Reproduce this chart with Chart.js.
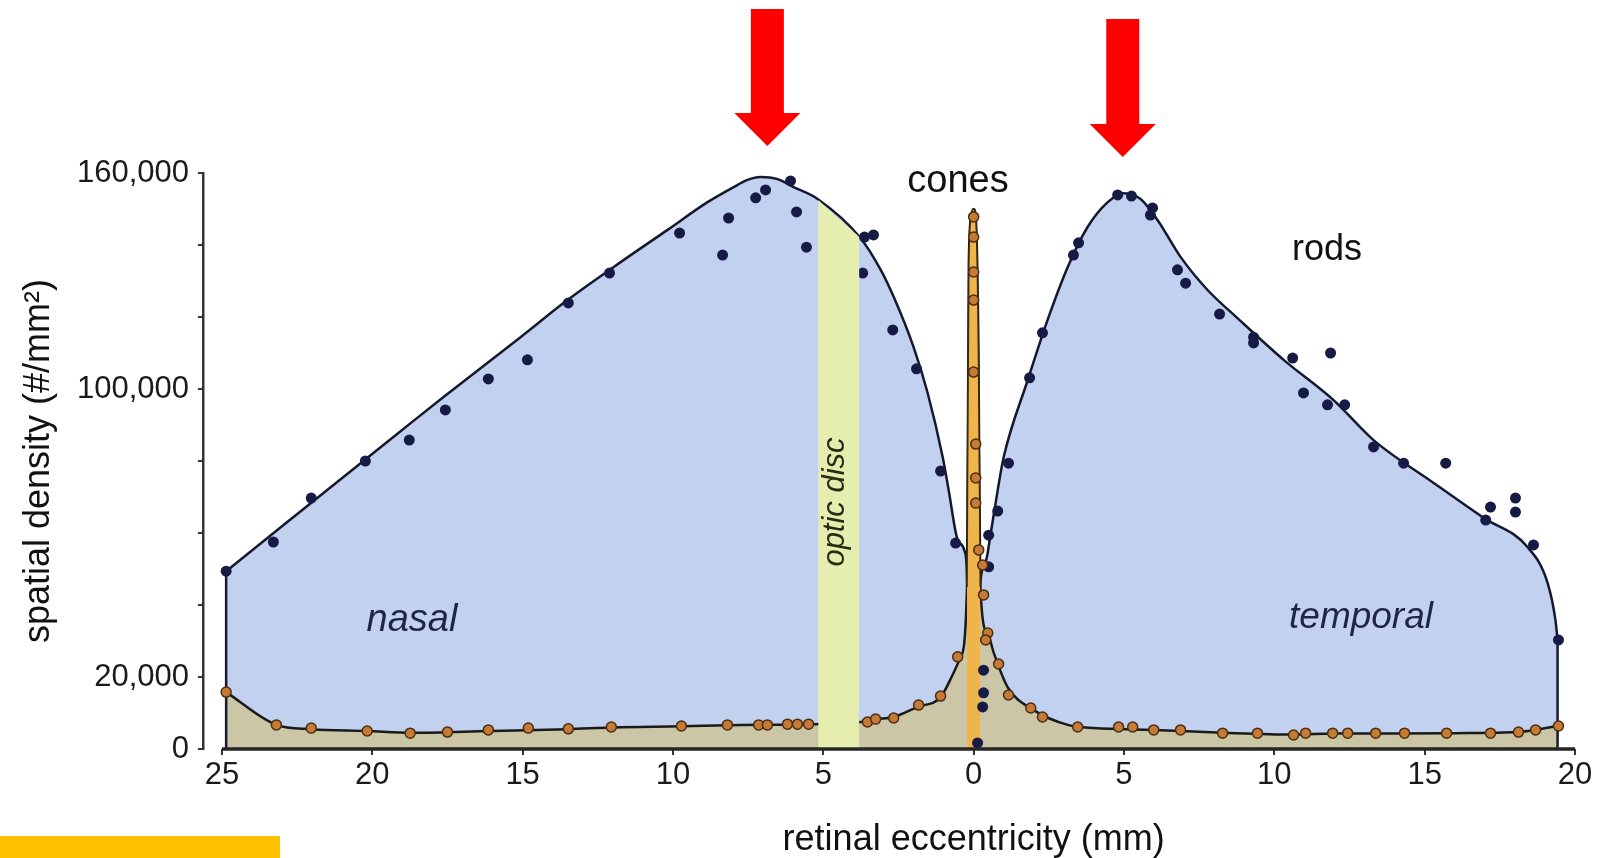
<!DOCTYPE html>
<html>
<head>
<meta charset="utf-8">
<title>Rod and cone density</title>
<script src="https://cdn.jsdelivr.net/npm/chart.js@4.4.1/dist/chart.umd.min.js"></script>
<style>
  html, body { margin: 0; padding: 0; background: #fff; }
  #wrap { width: 1598px; height: 858px; }
</style>
</head>
<body>
<div id="wrap"><canvas id="densityChart" width="1598" height="858"></canvas></div>
<script>
// Axis ticks (eccentricity in mm, nasal side negative)
const xTickValues = [-25, -20, -15, -10, -5, 0, 5, 10, 15, 20];
const xTickLabels = ['25', '20', '15', '10', '5', '0', '5', '10', '15', '20'];
const yTickValues = [0, 20000, 40000, 60000, 80000, 100000, 120000, 140000, 160000];
const yTickLabels = ['0', '20,000', '', '', '', '100,000', '', '', '160,000'];

// Fitted rod density curve [mm, cells/mm2]
const rodCurve = [
  [-24.86, 49400], [-19.07, 88200], [-17.63, 97800], [-15.07, 114400], [-13.51, 124700],
  [-11.97, 133900], [-10.18, 144200], [-8.85, 151900], [-7.98, 156100], [-7.52, 158100],
  [-7.09, 158900], [-6.52, 158300], [-5.99, 156100], [-5.19, 152800], [-3.76, 141900],
  [-3.09, 133100], [-2.66, 125600], [-2.0, 111700], [-1.53, 98900], [-1.03, 81100],
  [-0.83, 71900], [-0.53, 58100], [-0.3, 55000], [-0.22, 48000], [-0.15, 15000], [0, 0],
  [0.15, 20000], [0.22, 46000], [0.4, 52000], [0.57, 60000], [0.8, 71900], [1.0, 81100],
  [1.8, 102500], [2.46, 119200], [3.13, 133900], [3.79, 145000], [4.46, 151900],
  [4.99, 154400], [5.55, 152800], [6.12, 146900], [6.88, 136700], [7.78, 127500],
  [8.8, 119500], [10.31, 108100], [11.97, 96900], [13.3, 85800], [15.3, 73900],
  [16.96, 64200], [18.42, 56100], [19.09, 46100], [19.35, 35800], [19.42, 30300]
];

// Fitted cone density curve
const coneCurve = [
  [-24.86, 15800], [-23.19, 6700], [-22.03, 5500], [-20.17, 5000], [-18.7, 4500],
  [-16.1, 5000], [-13.5, 5500], [-12.0, 6000], [-9.7, 6300], [-8.2, 6600], [-5.5, 6900],
  [-3.76, 7500], [-3.26, 8300], [-2.66, 8900], [-1.86, 11700], [-1.1, 14400],
  [-0.67, 21100], [-0.43, 25600], [-0.22, 45000], [-0.16, 135000], [-0.08, 148000],
  [0, 150000], [0.08, 146000], [0.16, 110000], [0.22, 45000], [0.47, 32000], [0.67, 26700],
  [1.13, 17200], [2.0, 10800], [3.13, 6700], [4.0, 5800], [6.0, 5300], [8.3, 4500],
  [10.6, 4000], [12.0, 4300], [14.0, 4300], [16.0, 4400], [18.1, 4700], [18.7, 5300],
  [19.42, 6400]
];

// Measured rod samples
const rodPoints = [
  [-24.86, 49400], [-23.29, 57500], [-22.03, 69700], [-20.23, 80000], [-18.77, 85800],
  [-17.57, 94200], [-16.14, 102800], [-14.84, 108100], [-13.48, 123900], [-12.11, 132200],
  [-9.78, 143300], [-8.35, 137200], [-8.15, 147500], [-7.25, 153100], [-6.92, 155300],
  [-6.39, 161700], [-6.09, 157800], [-5.89, 149200], [-5.56, 139400], [-3.63, 142200],
  [-3.33, 142800], [-3.69, 132200], [-2.69, 116400], [-1.9, 105600], [-1.1, 77200],
  [-0.6, 57200], [0.13, 1700], [0.3, 11700], [0.33, 15600], [0.33, 21900], [0.5, 50600],
  [0.5, 59400], [0.8, 66100], [1.16, 79400], [1.86, 103100], [2.29, 115600],
  [3.32, 137200], [3.49, 140600], [4.79, 153900], [5.25, 153600], [5.95, 150300],
  [5.88, 148300], [6.78, 133100], [7.05, 129400], [8.18, 120800], [9.31, 114400],
  [9.31, 112800], [10.61, 108600], [11.87, 110000], [10.97, 98900], [11.77, 95600],
  [12.34, 95600], [13.3, 83900], [14.3, 79400], [15.7, 79400], [17.19, 67200],
  [17.03, 63600], [18.02, 69700], [18.02, 65800], [18.62, 56700], [19.45, 30300]
];

// Measured cone samples
const conePoints = [
  [-24.86, 15800], [-23.19, 6700], [-22.03, 5800], [-20.17, 5000], [-18.74, 4400],
  [-17.5, 4700], [-16.14, 5300], [-14.81, 5800], [-13.48, 5600], [-12.05, 6100],
  [-9.72, 6400], [-8.19, 6700], [-7.15, 6700], [-6.86, 6700], [-6.19, 6900],
  [-5.86, 6900], [-5.49, 6900], [-3.53, 7500], [-3.26, 8300], [-2.66, 8600],
  [-1.83, 12200], [-1.1, 14700], [-0.53, 25600], [0, 147800], [0, 142200], [0, 132500],
  [0, 124700], [0, 104700], [0.07, 84700], [0.07, 75300], [0.07, 68300], [0.17, 55300],
  [0.3, 51100], [0.33, 42800], [0.47, 32200], [0.4, 30300], [0.83, 23600], [1.16, 15000],
  [1.9, 11400], [2.29, 8900], [3.46, 6100], [4.82, 6100], [5.29, 6100], [5.99, 5300],
  [6.88, 5300], [8.28, 4400], [9.44, 4400], [10.64, 3900], [11.04, 4400], [11.94, 4400],
  [12.44, 4400], [13.37, 4400], [14.33, 4400], [15.73, 4400], [17.19, 4400],
  [18.12, 4700], [18.69, 5300], [19.45, 6400]
];

// Optic disc band (top follows the rod curve)
const opticDisc = [[-5.17, 152500], [-3.8, 142200]];

// Peak markers (mm)
const arrowPositions = [-6.86, 4.96];

const FONT = "'Liberation Sans', Arial, Helvetica, sans-serif";
Chart.defaults.font.family = FONT;

const toXY = arr => arr.map(([x, y]) => ({ x: x, y: y }));

const rodEdges = [
  { x: rodCurve[0][0], y: 0 }, { x: rodCurve[0][0], y: rodCurve[0][1] }, { x: 0, y: null },
  { x: rodCurve[rodCurve.length - 1][0], y: 0 }, { x: rodCurve[rodCurve.length - 1][0], y: rodCurve[rodCurve.length - 1][1] }
];

function drawArrow(ctx, cx, top, headTop, tip) {
  ctx.save();
  ctx.fillStyle = '#ff0000';
  ctx.beginPath();
  ctx.moveTo(cx - 16.5, top);
  ctx.lineTo(cx + 16.5, top);
  ctx.lineTo(cx + 16.5, headTop);
  ctx.lineTo(cx + 33, headTop);
  ctx.lineTo(cx, tip);
  ctx.lineTo(cx - 33, headTop);
  ctx.lineTo(cx - 16.5, headTop);
  ctx.closePath();
  ctx.fill();
  ctx.restore();
}

const decorations = {
  id: 'decorations',
  beforeDraw(chart) {
    const ctx = chart.ctx;
    ctx.save();
    ctx.fillStyle = '#ffffff';
    ctx.fillRect(0, 0, chart.width, chart.height);
    ctx.restore();
  },
  afterDatasetsDraw(chart) {
    const ctx = chart.ctx;
    const xs = chart.scales.x, ys = chart.scales.y;

    // optic disc label
    ctx.save();
    ctx.translate(835, 502);
    ctx.rotate(-Math.PI / 2);
    ctx.fillStyle = '#2b2a14';
    ctx.font = 'italic 31px ' + FONT;
    ctx.textAlign = 'center';
    ctx.textBaseline = 'middle';
    ctx.fillText('optic disc', 0, 0);
    ctx.restore();

    // x axis line
    ctx.save();
    ctx.strokeStyle = '#262626';
    ctx.lineWidth = 3.5;
    ctx.beginPath();
    ctx.moveTo(xs.getPixelForValue(-25), ys.getPixelForValue(0));
    ctx.lineTo(xs.getPixelForValue(20), ys.getPixelForValue(0));
    ctx.stroke();
    ctx.restore();
  },
  afterDraw(chart) {
    const ctx = chart.ctx;
    const xs = chart.scales.x;

    ctx.save();
    ctx.textAlign = 'center';
    ctx.textBaseline = 'alphabetic';

    ctx.fillStyle = '#111';
    ctx.font = '38px ' + FONT;
    ctx.fillText('cones', 958, 192);
    ctx.font = '36px ' + FONT;
    ctx.fillText('rods', 1327, 260);

    ctx.fillStyle = '#1f2547';
    ctx.font = 'italic 38px ' + FONT;
    ctx.fillText('nasal', 412, 631);
    ctx.font = 'italic 37px ' + FONT;
    ctx.fillText('temporal', 1361, 628);

    // x axis title centred on 0 mm
    ctx.fillStyle = '#111';
    ctx.font = '36px ' + FONT;
    ctx.fillText('retinal eccentricity (mm)', xs.getPixelForValue(0), 850);
    ctx.restore();

    drawArrow(ctx, xs.getPixelForValue(arrowPositions[0]), 9, 113, 146);
    drawArrow(ctx, xs.getPixelForValue(arrowPositions[1]), 19, 124, 157);

    ctx.save();
    ctx.fillStyle = '#ffc000';
    ctx.fillRect(0, 836, 280, 22);
    ctx.restore();
  }
};

const ctx = document.getElementById('densityChart').getContext('2d');
const densityChart = new Chart(ctx, {
  type: 'line',
  data: {
    datasets: [
      {
        label: 'rods',
        data: toXY(rodCurve),
        borderColor: '#15192e',
        borderWidth: 2.5,
        backgroundColor: '#c3d1f0',
        fill: 'origin',
        pointRadius: 0,
        cubicInterpolationMode: 'monotone',
        clip: false,
        order: 7
      },
      {
        label: 'cones',
        data: toXY(coneCurve),
        borderColor: '#1a1a1a',
        borderWidth: 2.5,
        backgroundColor: '#cbc6a6',
        fill: 'origin',
        pointRadius: 0,
        cubicInterpolationMode: 'monotone',
        clip: false,
        order: 6
      },
      {
        label: 'foveal cones',
        data: toXY(coneCurve.filter(p => Math.abs(p[0]) <= 0.22)),
        borderColor: '#3a2a10',
        borderWidth: 1.5,
        backgroundColor: '#efb54a',
        fill: 'origin',
        pointRadius: 0,
        cubicInterpolationMode: 'monotone',
        clip: false,
        order: 5
      },
      {
        label: 'edges',
        data: rodEdges,
        borderColor: '#15192e',
        borderWidth: 2.5,
        fill: false,
        pointRadius: 0,
        spanGaps: false,
        clip: false,
        order: 4
      },
      {
        label: 'rod samples',
        data: toXY(rodPoints),
        showLine: false,
        pointRadius: 5.5,
        pointBackgroundColor: '#161b46',
        pointBorderWidth: 0,
        clip: false,
        order: 3
      },
      {
        label: 'cone samples',
        data: toXY(conePoints),
        showLine: false,
        pointRadius: 5,
        pointBackgroundColor: '#c57b35',
        pointBorderColor: '#4a2e12',
        pointBorderWidth: 1.5,
        clip: false,
        order: 2
      },
      {
        label: 'optic disc',
        data: toXY(opticDisc),
        borderWidth: 0,
        borderColor: 'rgba(0,0,0,0)',
        backgroundColor: '#e6eeaf',
        fill: 'origin',
        pointRadius: 0,
        clip: false,
        order: 1
      }
    ]
  },
  options: {
    responsive: false,
    animation: false,
    events: [],
    layout: { padding: { top: 173, right: 23, bottom: 0, left: 0 } },
    plugins: {
      legend: { display: false },
      tooltip: { enabled: false }
    },
    scales: {
      x: {
        type: 'linear',
        min: -25.63,
        max: 20,
        afterBuildTicks: scale => { scale.ticks = xTickValues.map(v => ({ value: v })); },
        afterFit: scale => { scale.height = 109; },
        ticks: {
          callback: (value, index) => xTickLabels[index],
          font: { size: 31 },
          color: '#1a1a1a',
          padding: 2,
          maxRotation: 0,
          autoSkip: false
        },
        grid: { drawOnChartArea: false, drawTicks: true, tickLength: 6, color: '#333', lineWidth: 2 },
        border: { display: false }
      },
      y: {
        min: 0,
        max: 160000,
        afterBuildTicks: scale => { scale.ticks = yTickValues.map(v => ({ value: v })); },
        afterFit: scale => { scale.width = 203; },
        ticks: {
          callback: (value, index) => yTickLabels[index],
          font: { size: 31 },
          color: '#1a1a1a',
          padding: 9,
          autoSkip: false
        },
        grid: { drawOnChartArea: false, drawTicks: true, tickLength: 5, color: '#333', lineWidth: 2 },
        border: { display: true, color: '#333', width: 2.5 },
        title: {
          display: true,
          text: 'spatial density (#/mm²)',
          font: { size: 36 },
          color: '#111',
          padding: { top: 17, bottom: 0 }
        }
      }
    }
  },
  plugins: [decorations]
});
</script>
</body>
</html>
